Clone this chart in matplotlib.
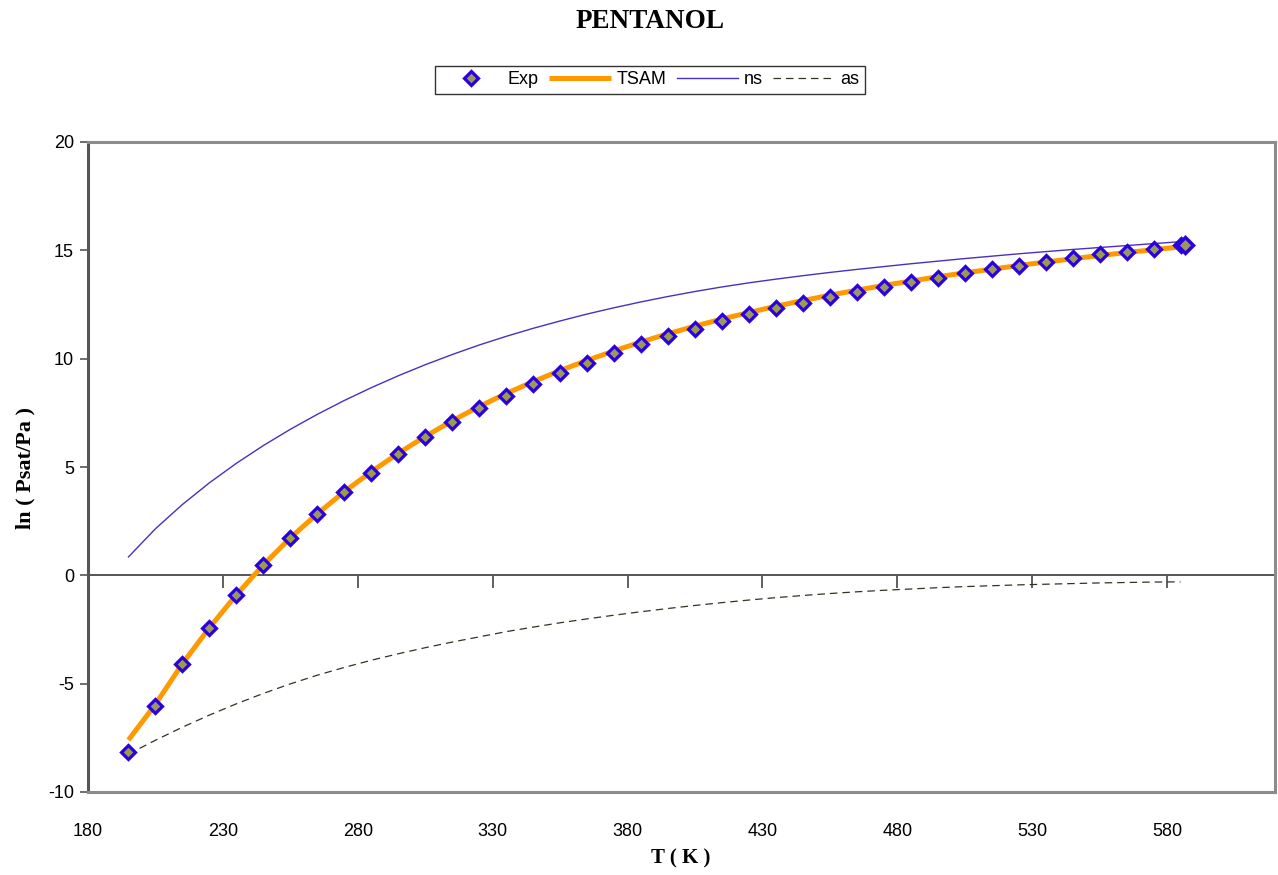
import matplotlib.pyplot as plt
import numpy as np

# Temperaturas (K)
T = [195, 205, 215, 225, 235, 245, 255, 265, 275, 285,
     295, 305, 315, 325, 335, 345, 355, 365, 375, 385,
     395, 405, 415, 425, 435, 445, 455, 465, 475, 485,
     495, 505, 515, 525, 535, 545, 555, 565, 575, 585]

# ln(Psat/Pa) experimental
exp_vals = [-8.16, -6.02, -4.10, -2.41, -0.89, 0.48, 1.72, 2.82, 3.84, 4.74,
            5.60, 6.37, 7.08, 7.72, 8.30, 8.84, 9.36, 9.82, 10.25, 10.67,
            11.05, 11.39, 11.74, 12.05, 12.33, 12.59, 12.84, 13.10, 13.33, 13.54,
            13.74, 13.96, 14.13, 14.30, 14.45, 14.64, 14.82, 14.93, 15.08, 15.24]

# ponto extra perto do ponto critico
T_crit = [586.5]
exp_crit = [15.26]

tsam_vals = [-7.60, -5.95, -4.08, -2.42, -0.90, 0.48, 1.73, 2.84, 3.86, 4.78,
             5.63, 6.41, 7.13, 7.79, 8.39, 8.94, 9.45, 9.92, 10.36, 10.77,
             11.15, 11.50, 11.83, 12.13, 12.42, 12.68, 12.93, 13.16, 13.38, 13.58,
             13.78, 13.96, 14.13, 14.30, 14.46, 14.61, 14.76, 14.90, 15.03, 15.16]

ns_vals = [0.85, 2.15, 3.27, 4.27, 5.17, 5.99, 6.74, 7.43, 8.07, 8.66,
           9.21, 9.72, 10.19, 10.63, 11.03, 11.40, 11.74, 12.06, 12.35, 12.62,
           12.87, 13.10, 13.31, 13.50, 13.67, 13.83, 13.98, 14.12, 14.25, 14.38,
           14.50, 14.62, 14.73, 14.84, 14.94, 15.04, 15.13, 15.22, 15.31, 15.40]

as_vals = [-8.25, -7.61, -7.01, -6.45, -5.93, -5.45, -5.01, -4.61, -4.25, -3.92,
           -3.62, -3.34, -3.08, -2.84, -2.60, -2.39, -2.19, -2.01, -1.84, -1.68,
           -1.53, -1.39, -1.26, -1.14, -1.03, -0.93, -0.84, -0.76, -0.69, -0.63,
           -0.57, -0.52, -0.48, -0.44, -0.41, -0.38, -0.35, -0.33, -0.31, -0.30]

xticks = [180, 230, 280, 330, 380, 430, 480, 530, 580]
yticks = [-10, -5, 0, 5, 10, 15, 20]

plt.rcParams['font.family'] = ['Liberation Sans', 'DejaVu Sans']
plt.rcParams['axes.unicode_minus'] = False

fig = plt.figure(figsize=(12.78, 8.75), dpi=100)
ax = fig.add_axes([88 / 1278, 1 - 792 / 875, (1275 - 88) / 1278, (792 - 142) / 875])

ln_tsam, = ax.plot(T, tsam_vals, color='#FF9900', lw=3.6, solid_capstyle='butt', zorder=3)
ln_ns, = ax.plot(T, ns_vals, color='#4B2FC0', lw=1.0, zorder=2)
ln_as, = ax.plot(T, as_vals, color='#333322', lw=0.9, ls=(0, (6, 4)), zorder=2)
pts, = ax.plot(T, exp_vals, ls='none', marker='D', ms=7.5, mfc='#9A9A55',
               mec='#2A00E0', mew=2.3, zorder=4)
ax.plot(T_crit, exp_crit, ls='none', marker='D', ms=8.5, mfc='#9A9A55',
        mec='#2A00E0', mew=2.5, zorder=4)

ax.set_xlim(180, 620)
ax.set_ylim(-10, 20)
ax.set_xticks(xticks)
ax.set_yticks(yticks)
ax.tick_params(axis='x', length=0, pad=22, labelsize=13)
ax.tick_params(axis='y', length=6, width=1.2, color='#555555', pad=4, labelsize=13)

for s in ['top', 'right', 'bottom']:
    ax.spines[s].set_color('#8C8C8C')
    ax.spines[s].set_linewidth(2.2)
ax.spines['left'].set_color('#555555')
ax.spines['left'].set_linewidth(2.2)

# eixo horizontal em y = 0 com as marcas
sec = ax.secondary_xaxis(1 / 3)
sec.set_xticks(xticks)
sec.tick_params(axis='x', direction='out', length=9, width=1.2, color='#444444',
                labelbottom=False, labeltop=False)
for s in sec.spines.values():
    s.set_color('#555555')
    s.set_linewidth(1.4)

fig.text(0.5086, 1 - 22 / 875, 'PENTANOL', ha='center', va='center',
         fontsize=19.5, fontweight='bold', family='Liberation Serif')
fig.text(681 / 1278, 1 - 858 / 875, 'T ( K )', ha='center', va='center',
         fontsize=15, fontweight='bold', family='Liberation Serif')
fig.text(25 / 1278, 1 - 468 / 875, 'ln ( Psat/Pa )', ha='center', va='center',
         rotation=90, fontsize=16, fontweight='bold', family='Liberation Serif')

leg = fig.legend([pts, ln_tsam, ln_ns, ln_as], ['Exp', 'TSAM', 'ns', 'as'],
                 loc='center', bbox_to_anchor=(650 / 1278, 1 - 80 / 875), ncol=4,
                 fontsize=13, frameon=True, fancybox=False, handlelength=3.4,
                 handletextpad=0.3, columnspacing=0.6, borderpad=0.3)
leg.get_frame().set_edgecolor('black')
leg.get_frame().set_linewidth(1.0)

fig.savefig('out.png', dpi=100)
